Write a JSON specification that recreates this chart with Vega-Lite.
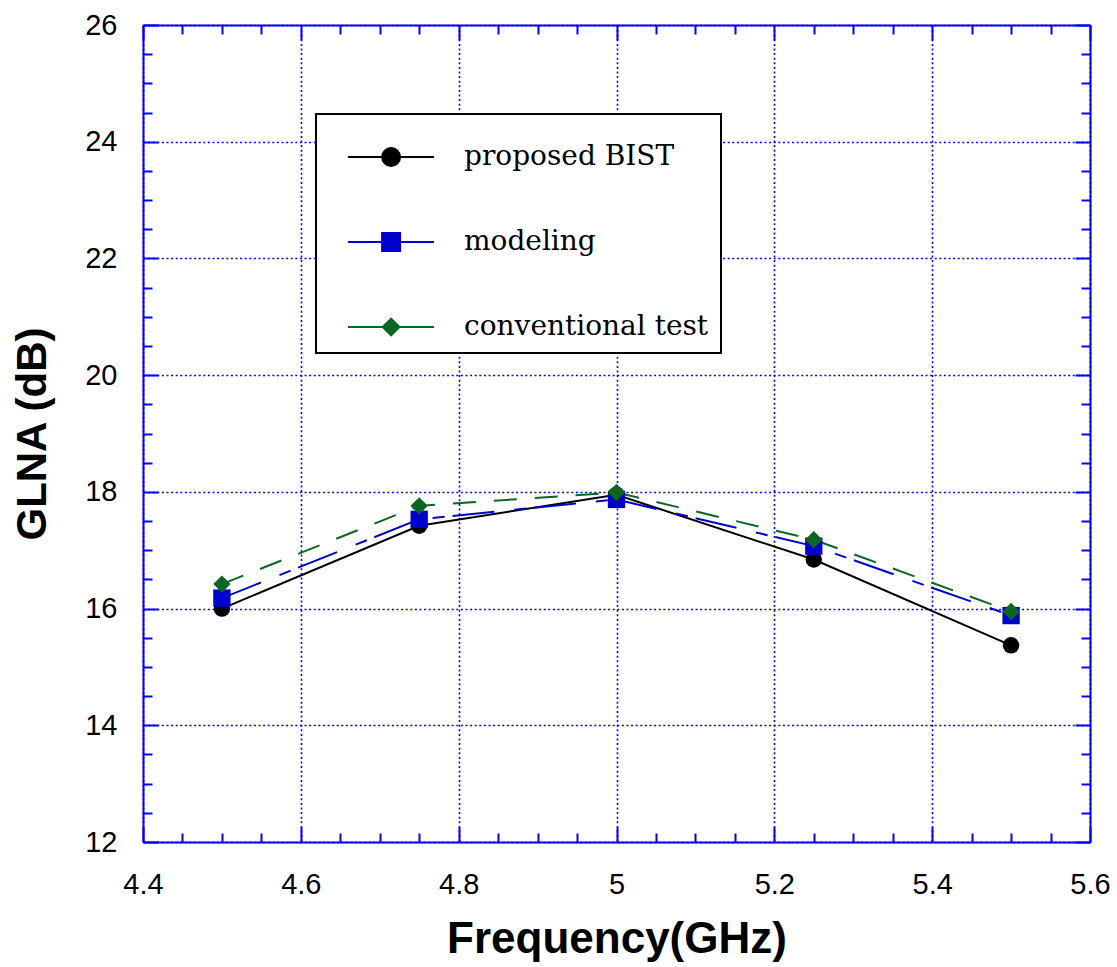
{
  "$schema": "https://vega.github.io/schema/vega-lite/v6.json",
  "autosize": {"type": "none"},
  "padding": {"left": 143, "top": 25, "right": 27, "bottom": 125},
  "width": 947,
  "height": 817,
  "background": "white",
  "config": {
    "view": {"stroke": null},
    "axis": {
      "domainColor": "#0000ff",
      "domainWidth": 2,
      "tickColor": "#0000ff",
      "tickWidth": 2,
      "gridColor": "#0000ff",
      "gridDash": [2, 2.6],
      "gridWidth": 1.6,
      "labelFont": "Liberation Sans",
      "labelFontSize": 29,
      "labelColor": "#000000",
      "labelOverlap": false,
      "labelBound": false,
      "labelFlush": false,
      "titleFont": "Liberation Sans",
      "titleFontSize": 44,
      "titleFontWeight": "bold",
      "titleColor": "#000000"
    }
  },
  "data": {
    "values": [
      {"series": "proposed BIST", "freq": 4.5, "gain": 16.0},
      {"series": "proposed BIST", "freq": 4.75, "gain": 17.42},
      {"series": "proposed BIST", "freq": 5.0, "gain": 17.95},
      {"series": "proposed BIST", "freq": 5.25, "gain": 16.84},
      {"series": "proposed BIST", "freq": 5.5, "gain": 15.37},
      {"series": "modeling", "freq": 4.5, "gain": 16.18},
      {"series": "modeling", "freq": 4.75, "gain": 17.53},
      {"series": "modeling", "freq": 5.0, "gain": 17.87},
      {"series": "modeling", "freq": 5.25, "gain": 17.07},
      {"series": "modeling", "freq": 5.5, "gain": 15.88},
      {"series": "conventional test", "freq": 4.5, "gain": 16.42},
      {"series": "conventional test", "freq": 4.75, "gain": 17.76},
      {"series": "conventional test", "freq": 5.0, "gain": 17.99},
      {"series": "conventional test", "freq": 5.25, "gain": 17.18},
      {"series": "conventional test", "freq": 5.5, "gain": 15.95}
    ]
  },
  "resolve": {"axis": {"x": "independent", "y": "independent"}},
  "layer": [
    {
      "transform": [{"filter": "datum.series === 'proposed BIST'"}],
      "mark": {"type": "line", "strokeWidth": 2},
      "encoding": {
        "x": {
          "field": "freq", "type": "quantitative",
          "scale": {"domain": [4.4, 5.6], "nice": false, "zero": false},
          "axis": {
            "orient": "bottom",
            "title": "Frequency(GHz)",
            "titlePadding": 12,
            "values": [4.4,4.45,4.5,4.55,4.6,4.65,4.7,4.75,4.8,4.85,4.9,4.95,5,5.05,5.1,5.15,5.2,5.25,5.3,5.35,5.4,5.45,5.5,5.55,5.6],
            "tickSize": {"condition": {"test": "abs(datum.value*5 - round(datum.value*5)) < 0.001", "value": -15}, "value": -9},
            "grid": true,
            "gridOpacity": {"condition": {"test": "abs(datum.value*5 - round(datum.value*5)) < 0.001", "value": 1}, "value": 0},
            "labelExpr": "abs(datum.value*5 - round(datum.value*5)) < 0.001 ? format(datum.value, '~g') : ''",
            "labelPadding": 43
          }
        },
        "y": {
          "field": "gain", "type": "quantitative",
          "scale": {"domain": [12, 26], "nice": false, "zero": false},
          "axis": {
            "orient": "left",
            "title": "GLNA (dB)",
            "titlePadding": 30,
            "titleFontSize": 42,
            "values": [12,12.5,13,13.5,14,14.5,15,15.5,16,16.5,17,17.5,18,18.5,19,19.5,20,20.5,21,21.5,22,22.5,23,23.5,24,24.5,25,25.5,26],
            "tickSize": {"condition": {"test": "datum.value % 2 == 0", "value": -15}, "value": -9},
            "grid": true,
            "gridOpacity": {"condition": {"test": "datum.value % 2 == 0", "value": 1}, "value": 0},
            "labelExpr": "datum.value % 2 == 0 ? format(datum.value, 'd') : ''",
            "labelPadding": 41
          }
        },
        "color": {
          "field": "series", "type": "nominal",
          "scale": {"domain": ["proposed BIST", "modeling", "conventional test"], "range": ["#000000", "#0000cc", "#0b6623"]},
          "legend": {
            "title": null,
            "orient": "none",
            "legendX": 173,
            "legendY": 89,
            "padding": 12,
            "rowPadding": 40,
            "symbolSize": 3600,
            "labelOffset": 74,
            "labelFont": "DejaVu Serif",
            "labelFontSize": 28,
            "labelColor": "#000000",
            "labelLimit": 400,
            "fillColor": "#ffffff",
            "strokeColor": "#000000",
            "encode": {
              "legend": {"update": {"strokeWidth": {"value": 2}}},
              "symbols": {
                "update": {
                  "shape": {"signal": "datum.value === 'proposed BIST' ? 'M-0.37,0L0.77,0M1.37,0L2.5,0M0.77,0A0.3,0.3,0,1,1,1.37,0A0.3,0.3,0,1,1,0.77,0Z' : datum.value === 'modeling' ? 'M-0.37,0L0.77,0M1.37,0L2.5,0M0.77,-0.3L1.37,-0.3L1.37,0.3L0.77,0.3Z' : 'M-0.37,0L0.79,0M1.35,0L2.5,0M1.07,-0.28L1.35,0L1.07,0.28L0.79,0Z'"},
                  "fill": {"scale": "color", "field": "value"},
                  "stroke": {"scale": "color", "field": "value"},
                  "strokeWidth": {"value": 2},
                  "opacity": {"value": 1},
                  "fillOpacity": {"value": 1}
                }
              }
            }
          }
        },
        "order": {"field": "freq", "type": "quantitative"}
      }
    },
    {
      "transform": [{"filter": "datum.series === 'modeling'"}],
      "mark": {"type": "line", "strokeWidth": 2, "strokeDash": [42, 20, 12, 8]},
      "encoding": {
        "x": {"field": "freq", "type": "quantitative", "axis": null},
        "y": {"field": "gain", "type": "quantitative", "axis": null},
        "color": {"field": "series", "type": "nominal", "legend": null},
        "order": {"field": "freq", "type": "quantitative"}
      }
    },
    {
      "transform": [{"filter": "datum.series === 'conventional test'"}],
      "mark": {"type": "line", "strokeWidth": 2, "strokeDash": [23, 18]},
      "encoding": {
        "x": {"field": "freq", "type": "quantitative", "axis": null},
        "y": {"field": "gain", "type": "quantitative", "axis": null},
        "color": {"field": "series", "type": "nominal", "legend": null},
        "order": {"field": "freq", "type": "quantitative"}
      }
    },
    {
      "transform": [{"filter": "datum.series === 'proposed BIST'"}],
      "mark": {"type": "point", "shape": "circle", "filled": true, "opacity": 1, "size": 270},
      "encoding": {
        "x": {
          "field": "freq", "type": "quantitative",
          "scale": {"domain": [4.4, 5.6], "nice": false, "zero": false},
          "axis": {
            "orient": "top",
            "title": null,
            "labels": false,
            "grid": false,
            "values": [4.4,4.45,4.5,4.55,4.6,4.65,4.7,4.75,4.8,4.85,4.9,4.95,5,5.05,5.1,5.15,5.2,5.25,5.3,5.35,5.4,5.45,5.5,5.55,5.6],
            "tickSize": {"condition": {"test": "abs(datum.value*5 - round(datum.value*5)) < 0.001", "value": -15}, "value": -9}
          }
        },
        "y": {
          "field": "gain", "type": "quantitative",
          "scale": {"domain": [12, 26], "nice": false, "zero": false},
          "axis": {
            "orient": "right",
            "title": null,
            "labels": false,
            "grid": false,
            "values": [12,12.5,13,13.5,14,14.5,15,15.5,16,16.5,17,17.5,18,18.5,19,19.5,20,20.5,21,21.5,22,22.5,23,23.5,24,24.5,25,25.5,26],
            "tickSize": {"condition": {"test": "datum.value % 2 == 0", "value": -15}, "value": -9}
          }
        },
        "color": {"field": "series", "type": "nominal", "legend": null}
      }
    },
    {
      "transform": [{"filter": "datum.series === 'modeling'"}],
      "mark": {"type": "point", "shape": "square", "filled": true, "opacity": 1, "size": 300},
      "encoding": {
        "x": {"field": "freq", "type": "quantitative", "axis": null},
        "y": {"field": "gain", "type": "quantitative", "axis": null},
        "color": {"field": "series", "type": "nominal", "legend": null}
      }
    },
    {
      "transform": [{"filter": "datum.series === 'conventional test'"}],
      "mark": {"type": "point", "shape": "diamond", "filled": true, "opacity": 1, "size": 300},
      "encoding": {
        "x": {"field": "freq", "type": "quantitative", "axis": null},
        "y": {"field": "gain", "type": "quantitative", "axis": null},
        "color": {"field": "series", "type": "nominal", "legend": null}
      }
    }
  ]
}
